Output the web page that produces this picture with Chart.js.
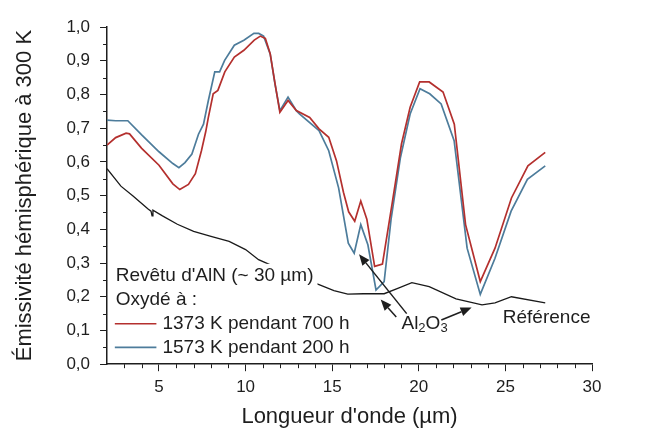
<!DOCTYPE html>
<html>
<head>
<meta charset="utf-8">
<script src="https://cdn.jsdelivr.net/npm/chart.js@4/dist/chart.umd.min.js"></script>
<style>
  body { margin: 0; background: #fff; }
  #wrap { width: 651px; height: 436px; }
</style>
</head>
<body>
<div id="wrap"><canvas id="emis"></canvas></div>
<script>
// longueur d'onde (µm) / émissivité
const lambda1373 = [2.0, 2.5, 3.1, 3.3, 4.0, 5.0, 5.8, 6.2, 6.7, 7.1, 7.45, 7.7, 7.85, 8.13, 8.4, 8.8, 9.35, 9.9, 10.5, 10.85, 11.14, 11.42, 11.7, 11.98, 12.45, 12.93, 13.7, 14.24, 14.8, 15.25, 15.65, 15.95, 16.3, 16.65, 17.0, 17.45, 17.9, 18.45, 19.0, 19.5, 20.05, 20.6, 21.4, 22.05, 22.7, 23.55, 24.4, 25.35, 26.3, 27.3];
const emis1373 = [0.65, 0.672, 0.685, 0.683, 0.64, 0.59, 0.535, 0.518, 0.533, 0.565, 0.633, 0.69, 0.732, 0.802, 0.812, 0.867, 0.911, 0.931, 0.961, 0.973, 0.966, 0.921, 0.832, 0.747, 0.782, 0.752, 0.732, 0.698, 0.673, 0.603, 0.51, 0.452, 0.424, 0.484, 0.43, 0.29, 0.297, 0.473, 0.653, 0.762, 0.837, 0.837, 0.807, 0.712, 0.414, 0.245, 0.344, 0.493, 0.588, 0.628];

const lambda1573 = [2.0, 2.5, 3.2, 4.0, 5.0, 5.8, 6.15, 6.5, 6.9, 7.28, 7.57, 7.85, 8.22, 8.5, 8.79, 9.35, 9.9, 10.48, 10.76, 11.04, 11.42, 11.7, 11.98, 12.45, 12.93, 13.11, 14.24, 14.8, 15.37, 15.93, 16.27, 16.65, 17.06, 17.53, 18.0, 18.4, 18.94, 19.5, 20.07, 20.63, 21.29, 22.04, 22.79, 23.55, 24.4, 25.33, 26.27, 27.3];
const emis1573 = [0.724, 0.722, 0.722, 0.68, 0.63, 0.595, 0.583, 0.598, 0.623, 0.682, 0.712, 0.782, 0.867, 0.867, 0.901, 0.946, 0.961, 0.981, 0.981, 0.973, 0.92, 0.83, 0.752, 0.792, 0.752, 0.742, 0.693, 0.633, 0.523, 0.359, 0.329, 0.414, 0.354, 0.22, 0.245, 0.43, 0.613, 0.742, 0.817, 0.802, 0.772, 0.663, 0.344, 0.207, 0.314, 0.454, 0.548, 0.588];

const lambdaRef = [2.0, 2.8, 3.5, 4.37, 4.54, 4.6, 4.65, 5.2, 6.06, 7.0, 8.0, 9.05, 10.0, 10.75, 12.5, 14.24, 15.1, 15.9, 16.8, 18.0, 18.75, 19.6, 20.6, 22.15, 23.65, 24.4, 25.35, 27.3];
const emisRef = [0.58, 0.528, 0.499, 0.46, 0.454, 0.44, 0.457, 0.44, 0.415, 0.394, 0.379, 0.364, 0.34, 0.31, 0.27, 0.236, 0.218, 0.208, 0.209, 0.209, 0.224, 0.242, 0.23, 0.194, 0.176, 0.182, 0.2, 0.182];

const xTicks = [5, 10, 15, 20, 25, 30];

const pts = (xs, ys) => xs.map((x, i) => ({ x: x, y: ys[i] }));
const FONT = "'Liberation Sans', Arial, sans-serif";
const INK = '#1e1e1e';

// annotations (coordonnées en unités de données)
const notes = {
  header: { x: 2.5, y: 0.262, text: "Revêtu d'AlN (~ 30 µm)" },
  oxyde: { x: 2.5, y: 0.19, text: 'Oxydé à :' },
  legendRows: [0.12, 0.05],
  legendLine: [2.45, 4.85],
  legendText: 5.2,
  alumine: { x: 19.0, y: 0.12 },
  reference: { x: 24.85, y: 0.137, text: 'Référence' },
  arrows: [
    { from: [19.3, 0.15], to: [16.55, 0.326] },
    { from: [18.7, 0.14], to: [17.8, 0.192] },
    { from: [21.3, 0.131], to: [23.05, 0.168] }
  ]
};

const notesPlugin = {
  id: 'notes',
  afterDatasetsDraw(chart) {
    const ctx = chart.ctx;
    const xs = chart.scales.x, ys = chart.scales.y;
    const px = v => xs.getPixelForValue(v);
    const py = v => ys.getPixelForValue(v);
    const area = chart.chartArea;
    ctx.save();

    // petites graduations
    ctx.strokeStyle = INK;
    ctx.lineWidth = 1;
    ctx.beginPath();
    for (let v = 3; v < 30; v++) {
      if (v % 5 === 0) continue;
      const x = Math.round(px(v)) + 0.5;
      ctx.moveTo(x, area.bottom);
      ctx.lineTo(x, area.bottom + 4);
    }
    for (let k = 1; k < 20; k += 2) {
      const y = Math.round(py(k * 0.05)) + 0.5;
      ctx.moveTo(area.left, y);
      ctx.lineTo(area.left - 4, y);
    }
    ctx.stroke();

    ctx.font = '19px ' + FONT;
    ctx.textBaseline = 'middle';
    ctx.textAlign = 'left';

    // titre de légende sur fond blanc
    const hx = px(notes.header.x), hy = py(notes.header.y);
    const hw = ctx.measureText(notes.header.text).width;
    ctx.fillStyle = '#fff';
    ctx.fillRect(hx - 2, hy - 12, hw + 6, 24);
    ctx.fillStyle = INK;
    ctx.fillText(notes.header.text, hx, hy);
    ctx.fillText(notes.oxyde.text, px(notes.oxyde.x), py(notes.oxyde.y));

    // légende des deux oxydations
    [0, 1].forEach((i, row) => {
      const ds = chart.data.datasets[i];
      const y = py(notes.legendRows[row]);
      ctx.strokeStyle = ds.borderColor;
      ctx.lineWidth = 1.6;
      ctx.beginPath();
      ctx.moveTo(px(notes.legendLine[0]), y);
      ctx.lineTo(px(notes.legendLine[1]), y);
      ctx.stroke();
      ctx.fillStyle = INK;
      ctx.fillText(ds.label, px(notes.legendText), y);
    });

    // Al2O3 avec indices
    let ax = px(notes.alumine.x);
    const ay = py(notes.alumine.y);
    [['Al', 19, 0], ['2', 13, 5], ['O', 19, 0], ['3', 13, 5]].forEach(([t, s, dy]) => {
      ctx.font = s + 'px ' + FONT;
      ctx.fillText(t, ax, ay + dy);
      ax += ctx.measureText(t).width;
    });

    ctx.font = '19px ' + FONT;
    ctx.fillText(notes.reference.text, px(notes.reference.x), py(notes.reference.y));

    // flèches
    ctx.strokeStyle = INK;
    ctx.fillStyle = INK;
    ctx.lineWidth = 1.5;
    notes.arrows.forEach(a => {
      const x0 = px(a.from[0]), y0 = py(a.from[1]);
      const x1 = px(a.to[0]), y1 = py(a.to[1]);
      const ang = Math.atan2(y1 - y0, x1 - x0);
      const L = 11, W = 4.5;
      const bx = x1 - L * Math.cos(ang), by = y1 - L * Math.sin(ang);
      ctx.beginPath();
      ctx.moveTo(x0, y0);
      ctx.lineTo(bx, by);
      ctx.stroke();
      ctx.beginPath();
      ctx.moveTo(x1, y1);
      ctx.lineTo(bx + W * Math.sin(ang), by - W * Math.cos(ang));
      ctx.lineTo(bx - W * Math.sin(ang), by + W * Math.cos(ang));
      ctx.closePath();
      ctx.fill();
    });

    ctx.restore();
  }
};

new Chart(document.getElementById('emis'), {
  type: 'line',
  data: {
    datasets: [
      { label: '1373 K pendant 700 h', data: pts(lambda1373, emis1373), borderColor: '#b4302e', borderWidth: 1.7 },
      { label: '1573 K pendant 200 h', data: pts(lambda1573, emis1573), borderColor: '#4d7c9b', borderWidth: 1.7 },
      { label: 'Référence', data: pts(lambdaRef, emisRef), borderColor: '#1a1a1a', borderWidth: 1.3 }
    ]
  },
  options: {
    responsive: true,
    maintainAspectRatio: false,
    animation: false,
    elements: { point: { radius: 0 }, line: { tension: 0 } },
    layout: { padding: { top: 27, right: 59, bottom: 6, left: 12 } },
    plugins: { legend: { display: false }, tooltip: { enabled: false } },
    scales: {
      x: {
        type: 'linear',
        min: 2,
        max: 30,
        afterBuildTicks: s => { s.ticks = xTicks.map(v => ({ value: v })); },
        grid: { drawOnChartArea: false, drawTicks: true, tickLength: 7, color: INK },
        border: { color: INK, width: 1.5 },
        ticks: { color: INK, font: { family: FONT, size: 17 }, padding: 6, maxRotation: 0 },
        title: { display: true, text: "Longueur d'onde (µm)", color: INK, font: { family: FONT, size: 22 }, padding: { top: 0, bottom: 0 } }
      },
      y: {
        min: 0,
        max: 1,
        ticks: {
          stepSize: 0.1,
          color: INK,
          font: { family: FONT, size: 17 },
          padding: 10,
          callback: v => v.toFixed(1).replace('.', ',')
        },
        grid: { drawOnChartArea: false, drawTicks: true, tickLength: 7, color: INK },
        border: { color: INK, width: 1.5 },
        title: { display: true, text: 'Émissivité hémisphérique à 300 K', color: INK, font: { family: FONT, size: 22 }, padding: { top: 0, bottom: 18 } }
      }
    }
  },
  plugins: [notesPlugin]
});
</script>
</body>
</html>
